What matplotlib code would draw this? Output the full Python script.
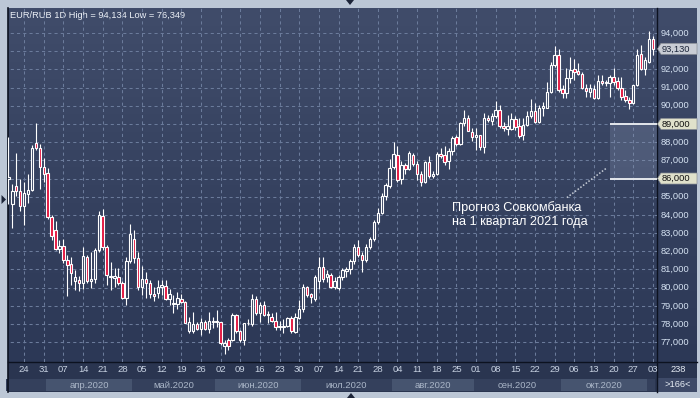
import matplotlib
matplotlib.use("Agg")
import matplotlib.pyplot as plt
import matplotlib.transforms as mtrans
from matplotlib.patches import Rectangle, Polygon
import numpy as np
import pandas as pd

# ---------------- data ----------------
opens = [86.00, 84.61, 85.57, 85.34, 84.50, 85.15, 85.39, 87.97, 87.70, 86.64,
         86.28, 83.88, 83.15, 82.12, 82.28, 81.52, 81.32, 80.37, 80.43, 80.25,
         81.70, 80.37, 80.46, 82.06, 83.92, 82.24, 80.60, 80.55, 80.61, 80.28,
         79.43, 81.48, 82.68, 81.63, 80.01, 80.46, 80.28, 79.66, 79.70, 80.03,
         80.10, 79.37, 79.10, 79.10, 79.39, 79.23, 77.64, 77.64, 77.99, 77.72,
         78.10, 77.73, 78.10, 78.13, 78.10, 76.77, 77.13, 77.13, 78.48, 77.59,
         77.10, 78.04, 78.01, 79.35, 78.59, 79.04, 78.55, 78.41, 78.19, 77.86,
         77.86, 77.90, 78.35, 77.55, 78.35, 78.83, 80.01, 79.64, 79.39, 80.37,
         81.13, 80.59, 80.68, 80.04, 80.00, 80.59, 80.90, 81.00, 81.48, 82.23,
         81.77, 81.50, 82.26, 82.68, 83.63, 84.13, 85.04, 85.59, 86.63, 87.32,
         85.95, 86.73, 86.55, 87.28, 86.81, 86.23, 85.83, 86.90, 86.14, 86.26,
         87.35, 87.28, 86.95, 87.50, 88.26, 87.90, 89.04, 89.32, 88.55, 88.26,
         88.41, 87.72, 89.35, 89.14, 89.41, 89.77, 88.90, 88.74, 88.74, 89.26,
         88.90, 88.41, 88.95, 89.46, 89.72, 89.10, 89.90, 89.90, 90.77, 92.26,
         92.81, 90.90, 90.68, 91.50, 92.01, 91.90, 91.77, 90.95, 90.77, 90.92,
         90.41, 91.35, 91.23, 91.23, 91.59, 91.35, 90.95, 90.55, 90.32, 90.14,
         91.13, 92.86, 92.04, 92.41, 93.65]
highs = [88.30, 85.70, 87.43, 86.00, 85.79, 86.23, 87.85, 89.06, 87.88, 87.15,
         86.57, 83.97, 83.66, 82.60, 82.70, 81.79, 81.70, 80.97, 80.65, 82.25,
         81.80, 81.97, 82.20, 84.19, 84.34, 82.33, 81.42, 81.06, 81.06, 80.34,
         81.70, 83.48, 83.15, 81.97, 81.19, 80.88, 80.43, 80.06, 80.43, 80.43,
         80.43, 79.92, 79.59, 79.77, 79.64, 79.25, 78.40, 78.68, 78.13, 78.35,
         78.22, 78.64, 78.41, 78.77, 78.12, 77.10, 77.22, 78.59, 78.55, 77.65,
         78.05, 78.30, 79.63, 79.53, 79.22, 79.28, 78.73, 78.63, 78.68, 78.19,
         78.30, 78.40, 78.44, 78.63, 79.32, 80.19, 80.08, 79.72, 80.68, 81.68,
         81.68, 80.95, 80.80, 80.60, 80.70, 81.10, 81.15, 81.55, 82.40, 82.60,
         81.95, 82.40, 82.80, 83.70, 84.40, 85.20, 85.75, 87.05, 88.00, 87.77,
         86.95, 86.86, 87.54, 87.41, 86.95, 86.41, 86.99, 87.23, 86.41, 87.46,
         87.68, 87.77, 87.68, 88.32, 88.41, 89.13, 89.77, 89.50, 88.77, 88.77,
         88.41, 89.59, 89.50, 89.59, 90.26, 90.05, 89.13, 89.50, 89.59, 89.41,
         89.32, 89.32, 89.72, 90.37, 90.14, 90.05, 90.19, 91.28, 92.41, 93.28,
         93.10, 91.13, 92.05, 92.68, 92.59, 92.37, 91.83, 91.17, 91.17, 91.13,
         91.68, 91.68, 91.41, 91.68, 92.08, 91.59, 91.59, 90.86, 90.50, 91.13,
         93.13, 93.32, 92.68, 94.134, 93.86]
lows = [84.60, 83.30, 85.06, 84.20, 83.46, 84.66, 85.30, 87.57, 85.43, 85.79,
        83.80, 82.64, 82.05, 81.90, 81.34, 79.52, 80.15, 79.88, 79.79, 79.90,
        80.25, 79.97, 80.28, 81.97, 82.06, 80.15, 79.88, 80.06, 80.15, 79.37,
        79.06, 81.34, 81.34, 79.88, 79.61, 79.43, 79.43, 79.25, 79.43, 79.61,
        79.34, 79.06, 78.63, 78.81, 79.17, 78.05, 77.50, 77.50, 77.68, 77.37,
        77.68, 77.50, 77.77, 77.86, 76.86, 76.349, 76.60, 77.04, 77.50, 77.00,
        76.86, 77.95, 77.90, 78.50, 78.12, 78.44, 78.04, 78.12, 77.68, 77.68,
        77.50, 77.86, 77.50, 77.50, 78.30, 78.68, 79.50, 79.13, 79.28, 79.95,
        80.30, 80.30, 80.00, 79.90, 79.85, 80.40, 80.60, 80.75, 81.30, 81.70,
        80.86, 81.40, 82.10, 82.55, 83.50, 84.05, 84.80, 85.50, 86.50, 85.83,
        85.70, 86.23, 86.45, 86.68, 85.90, 85.59, 85.77, 86.05, 86.05, 86.19,
        87.13, 86.77, 86.50, 87.32, 87.77, 87.83, 88.86, 88.59, 88.04, 87.59,
        87.59, 87.40, 89.10, 88.95, 89.32, 88.77, 88.59, 88.41, 88.68, 88.68,
        88.23, 88.14, 88.86, 89.32, 89.05, 89.05, 89.41, 89.86, 90.68, 92.14,
        90.77, 90.41, 90.41, 91.23, 91.41, 91.68, 90.92, 90.50, 90.50, 90.37,
        90.37, 91.13, 91.10, 90.50, 91.13, 90.86, 90.32, 90.19, 89.83, 90.08,
        91.10, 91.95, 91.68, 92.37, 92.77]
closes = [86.10, 85.34, 85.30, 84.50, 85.19, 85.39, 87.70, 87.70, 86.64, 86.25,
          83.88, 82.83, 82.10, 82.28, 81.52, 81.25, 80.79, 80.61, 80.25, 81.74,
          80.37, 80.46, 82.06, 83.97, 82.24, 80.70, 80.65, 80.64, 80.28, 79.43,
          81.48, 82.94, 81.61, 80.01, 80.46, 80.25, 79.66, 79.52, 80.03, 80.15,
          79.37, 79.66, 79.15, 79.41, 79.23, 78.08, 78.10, 77.99, 77.73, 78.10,
          77.73, 78.15, 78.17, 78.15, 76.95, 76.95, 76.77, 78.50, 77.59, 77.10,
          78.04, 78.06, 79.35, 78.59, 79.04, 78.50, 78.48, 78.19, 77.83, 77.87,
          77.87, 78.35, 77.59, 78.41, 78.83, 80.01, 79.59, 79.46, 80.59, 81.13,
          80.50, 80.77, 80.04, 80.35, 80.59, 80.99, 81.00, 81.48, 82.26, 81.77,
          81.50, 82.26, 82.68, 83.63, 84.13, 85.04, 85.62, 86.59, 87.35, 85.90,
          86.73, 86.55, 87.41, 86.81, 86.23, 85.83, 86.90, 86.14, 86.26, 87.35,
          87.26, 86.92, 87.54, 88.23, 87.90, 89.04, 89.32, 88.63, 88.26, 88.41,
          87.74, 89.32, 89.23, 89.41, 89.77, 88.86, 88.77, 88.86, 89.26, 88.81,
          88.32, 88.95, 89.46, 89.72, 89.10, 89.90, 89.96, 90.77, 92.26, 92.81,
          90.86, 90.68, 91.50, 91.95, 91.83, 91.77, 90.95, 90.81, 90.95, 90.41,
          91.35, 91.23, 91.30, 91.59, 91.28, 90.95, 90.50, 90.32, 90.14, 91.13,
          92.81, 92.04, 92.50, 93.65, 93.13]

dates = pd.bdate_range("2020-03-18", "2020-11-03")
price_levels = list(range(77, 95))
forecast_low, forecast_high = 86.0, 89.0
forecast_start = 153
month_names = {3: "мар", 4: "апр", 5: "май", 6: "июн", 7: "июл", 8: "авг",
               9: "сен", 10: "окт", 11: "ноя"}
title = "EUR/RUB 1D High = 94,134 Low = 76,349"
last_close = closes[-1]
bar_total, bar_visible = "238", ">166<"
note_lines = ["Прогноз Совкомбанка", "на 1 квартал 2021 года"]

# ---------------- figure ----------------
W, H = 700, 398
FONT = ["Liberation Sans", "DejaVu Sans"]
plt.rcParams["font.family"] = FONT
fig = plt.figure(figsize=(W / 100, H / 100), dpi=100)
fig.patch.set_facecolor("#bcc7d6")

bg = fig.add_axes([0, 0, 1, 1])
bg.set_xlim(0, W)
bg.set_ylim(H, 0)
bg.axis("off")

# gradient chart background (plot + price scale)
g = np.linspace(0, 1, 256)[:, None, None]
top = np.array([0x40, 0x4c, 0x6a]) / 255
bot = np.array([0x2c, 0x38, 0x56]) / 255
img = top + (bot - top) * g
bg.imshow(img, extent=(8, 697, 362, 8), aspect="auto", zorder=0)

# date area
bg.add_patch(Rectangle((8, 362), 689, 30, facecolor="#2a3550", edgecolor="none", zorder=1))

ax = fig.add_axes([8 / W, (H - 362) / H, 649 / W, 354 / H])
ax.set_facecolor("none")
n = len(opens)
ax.set_xlim(-0.1, 165.04)
ax.set_ylim(75.913, 95.374)
for s in ax.spines.values():
    s.set_visible(False)
ax.set_xticks([])
ax.set_yticks([])

tues = [i for i, d in enumerate(dates) if d.weekday() == 1]
grid_c = "#6b7b9b"
ax.hlines(price_levels, -1, n + 2, colors=grid_c, lw=0.75, linestyles=(0, (3, 3)), zorder=1)
ax.vlines(tues, 70, 100, colors=grid_c, lw=0.75, linestyles=(0, (3, 3)), zorder=1)

O = np.array(opens); Hh = np.array(highs); L = np.array(lows); C = np.array(closes)
x = np.arange(n)
lo_b = np.minimum(O, C); hi_b = np.maximum(O, C)
ax.vlines(x, L, lo_b, colors="white", lw=0.8, zorder=3)
ax.vlines(x, hi_b, Hh, colors="white", lw=0.8, zorder=3)
up = C >= O
hgt = np.maximum(hi_b - lo_b, 0.03)
ax.bar(x[up], hgt[up], bottom=lo_b[up], width=0.62, facecolor="#34405e",
       edgecolor="white", linewidth=0.8, zorder=4)
ax.bar(x[~up], hgt[~up], bottom=lo_b[~up], width=0.62, facecolor="#e3163f",
       edgecolor="white", linewidth=0.8, zorder=4)

# forecast zone
ax.add_patch(Rectangle((forecast_start, forecast_low), n + 5 - forecast_start,
                       forecast_high - forecast_low, facecolor="#8a97b4", alpha=0.28,
                       edgecolor="none", zorder=2))
ax.hlines([forecast_low, forecast_high], forecast_start, n + 5, colors="#e4e7ec", lw=1.4, zorder=5)
ax.plot([142.1, 152.3], [84.95, 86.59], color="#c9cfd9", lw=1.1, ls=(0, (1, 1.2)), zorder=5)
ax.text(112.9, 84.43, note_lines[0], color="white", fontsize=9.2, ha="left", va="center", zorder=6)
ax.text(112.9, 83.6, note_lines[1], color="white", fontsize=9.2, ha="left", va="center", zorder=6)

# border lines
bg.plot([8, 8], [8, 392], color="#0c1220", lw=1.2, zorder=6)
bg.plot([657, 657], [8, 392], color="#0c1220", lw=1.0, zorder=6)
bg.plot([8, 697], [362, 362], color="#0c1220", lw=1.0, zorder=6)

# title
bg.text(10, 15, title, color="#eef2f8", fontsize=6.7, ha="left", va="center", zorder=7)

# price scale labels (those hidden under a price tag are skipped)
tags = [last_close, forecast_high, forecast_low]
bt = mtrans.blended_transform_factory(bg.transData, ax.transData)
for v in price_levels:
    if min(abs(v - t) for t in tags) < 0.6:
        continue
    bg.text(661, v, f"{v:.3f}".replace(".", ","), transform=bt, color="#d5e2f2",
            fontsize=6.7, ha="left", va="center", zorder=7)

def tag(price, face, tcol):
    hh = 5.5 / 18.19
    poly = Polygon([(657.5, price), (661, price + hh), (697, price + hh),
                    (697, price - hh), (661, price - hh)], closed=True,
                   transform=bt, facecolor=face, edgecolor="#8a8f96", lw=0.5, zorder=8)
    bg.add_patch(poly)
    bg.text(662, price, f"{price:.3f}".replace(".", ","), transform=bt, color=tcol,
            fontsize=6.7, ha="left", va="center", zorder=9)

tag(last_close, "#c9cdd5", "#1a2438")
tag(forecast_high, "#e0e1cb", "#111111")
tag(forecast_low, "#e0e1cb", "#111111")

# date labels
xt = mtrans.blended_transform_factory(ax.transData, bg.transData)
for i in tues:
    bg.text(i, 370, dates[i].strftime("%d"), transform=xt, color="#c8d2e2",
            fontsize=6.8, ha="center", va="center", zorder=7, clip_on=False)

# month bands
months = pd.Series(np.arange(n), index=dates).groupby(dates.month)
band_cols = ["#34405c", "#46546f"]
for k, (m, idx) in enumerate(months):
    a, b = idx.min() - 0.5, idx.max() + 0.5
    rect = Rectangle((a, 379), b - a, 12, transform=xt,
                     facecolor=band_cols[k % 2], edgecolor="none", zorder=2)
    bg.add_patch(rect)
    if b - a > 15:
        bg.text((a + b) / 2, 385, f"{month_names[m]}.2020", transform=xt,
                color="#aab6c8", fontsize=6.8, ha="center", va="center", zorder=7)

# bottom-right counter box
bg.add_patch(Rectangle((657, 378), 40, 14, facecolor="#3e4a68", edgecolor="none", zorder=3))
bg.text(678, 370, bar_total, color="#e6ecf4", fontsize=6.7, ha="center", va="center", zorder=7)
bg.text(678, 384.5, bar_visible, color="#e6ecf4", fontsize=6.7, ha="center", va="center", zorder=7)

# little triangles on the frame
bg.add_patch(Polygon([(346, 0), (354, 0), (350, 5)], closed=True, facecolor="#1c2438", zorder=8))
bg.add_patch(Polygon([(347, 398), (355, 398), (351, 393)], closed=True, facecolor="#1c2438", zorder=8))
bg.add_patch(Polygon([(1.5, 195), (1.5, 204), (6, 199.5)], closed=True, facecolor="#1c2438", zorder=8))

fig.savefig("out.png", dpi=100)
